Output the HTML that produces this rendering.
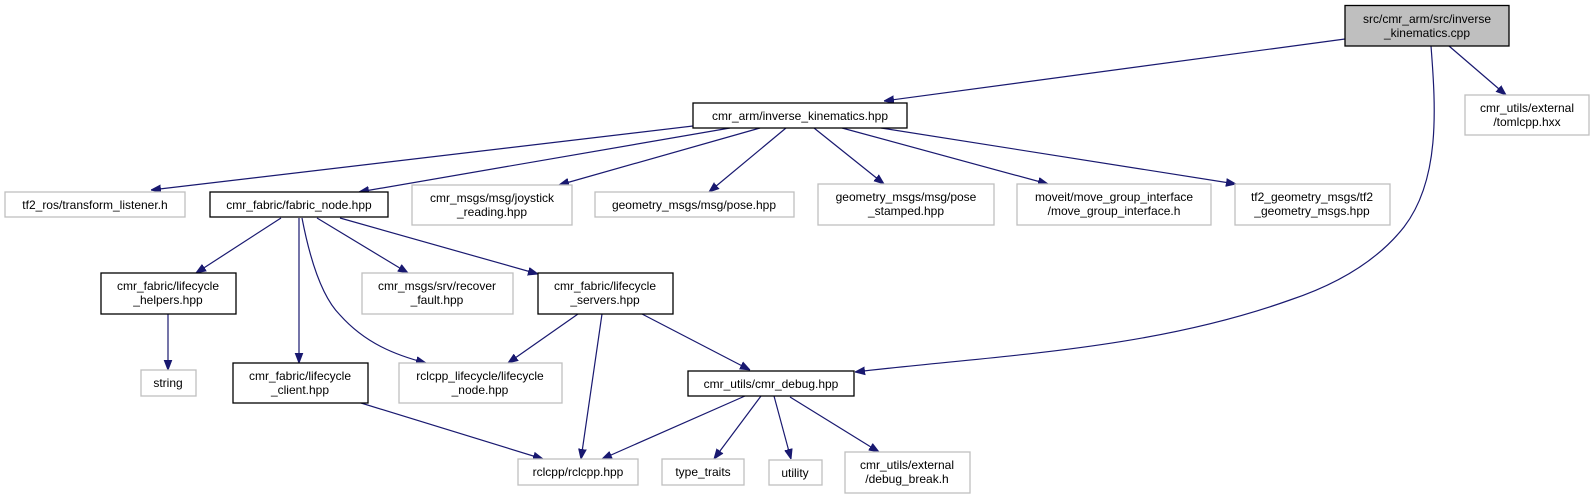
<!DOCTYPE html>
<html><head><meta charset="utf-8"><style>
html,body{margin:0;padding:0;background:#fff;}
svg{display:block;}
text{font-family:"Liberation Sans",Arial,sans-serif;font-size:12px;fill:#000;text-anchor:middle;}
.g{fill:#fff;stroke:#bfbfbf;stroke-width:1.3;}
.b{fill:#fff;stroke:#000;stroke-width:1.3;}
.e{fill:none;stroke:#191970;stroke-width:1.2;}
</style></head><body>
<svg width="1595" height="499" viewBox="0 0 1595 499" xmlns="http://www.w3.org/2000/svg">
<defs><marker id="a" viewBox="0 0 10 10" refX="10" refY="5" markerWidth="10" markerHeight="10" markerUnits="userSpaceOnUse" orient="auto"><path d="M0,1.2 L10,5 L0,8.8 z" fill="#191970" stroke="#191970"/></marker></defs>
<g marker-end="url(#a)">
<path class="e" d="M693,126 L151,190"/>
<path class="e" d="M730,128 L359,192"/>
<path class="e" d="M760,128 L559,185"/>
<path class="e" d="M786,128 L709,192"/>
<path class="e" d="M814,128 L884,184"/>
<path class="e" d="M842,128 L1048,184"/>
<path class="e" d="M881,128 L1236,184"/>
<path class="e" d="M1345,39 L884,101"/>
<path class="e" d="M1449,46 L1506,95"/>
<path class="e" d="M1431,46 C1436,110 1440,180 1404,227 C1370,270 1320,290 1290,300 C1150,350 1000,355 855,372"/>
<path class="e" d="M790,397 L879,452"/>
<path class="e" d="M281,218 L196,273"/>
<path class="e" d="M299,218 L299,363"/>
<path class="e" d="M302,218 C312,270 325,300 340,315 C365,343 395,355 426,363"/>
<path class="e" d="M317,218 L408,273"/>
<path class="e" d="M340,218 L538,274"/>
<path class="e" d="M168,314 L168,370"/>
<path class="e" d="M578,314 L508,363"/>
<path class="e" d="M602,314 L581,459"/>
<path class="e" d="M642,314 L750,370"/>
<path class="e" d="M361,403 L543,459"/>
<path class="e" d="M745,396 L602,459"/>
<path class="e" d="M761,396 L714,459"/>
<path class="e" d="M774,396 L791,459"/>
</g>
<rect x="1345" y="5.5" width="164" height="40.5" fill="#bfbfbf" stroke="#000" stroke-width="1.3"/>
<text x="1427" y="23">src/cmr_arm/src/inverse</text><text x="1427" y="37">_kinematics.cpp</text>
<rect class="g" x="1465" y="95" width="124" height="40"/>
<text x="1527" y="112">cmr_utils/external</text><text x="1527" y="126">/tomlcpp.hxx</text>
<rect class="b" x="693" y="103" width="214" height="25"/>
<text x="800" y="120">cmr_arm/inverse_kinematics.hpp</text>
<rect class="g" x="5" y="192" width="180" height="25"/>
<text x="95" y="209">tf2_ros/transform_listener.h</text>
<rect class="b" x="210" y="192" width="178" height="25"/>
<text x="299" y="209">cmr_fabric/fabric_node.hpp</text>
<rect class="g" x="412" y="185" width="160" height="40"/>
<text x="492" y="202">cmr_msgs/msg/joystick</text><text x="492" y="216">_reading.hpp</text>
<rect class="g" x="595" y="192" width="199" height="25"/>
<text x="694" y="209">geometry_msgs/msg/pose.hpp</text>
<rect class="g" x="818" y="184" width="176" height="41"/>
<text x="906" y="201">geometry_msgs/msg/pose</text><text x="906" y="215">_stamped.hpp</text>
<rect class="g" x="1017" y="184" width="194" height="41"/>
<text x="1114" y="201">moveit/move_group_interface</text><text x="1114" y="215">/move_group_interface.h</text>
<rect class="g" x="1235" y="184" width="155" height="41"/>
<text x="1312" y="201">tf2_geometry_msgs/tf2</text><text x="1312" y="215">_geometry_msgs.hpp</text>
<rect class="b" x="101" y="273" width="135" height="41"/>
<text x="168" y="290">cmr_fabric/lifecycle</text><text x="168" y="304">_helpers.hpp</text>
<rect class="g" x="362" y="273" width="151" height="41"/>
<text x="437" y="290">cmr_msgs/srv/recover</text><text x="437" y="304">_fault.hpp</text>
<rect class="b" x="538" y="273" width="135" height="41"/>
<text x="605" y="290">cmr_fabric/lifecycle</text><text x="605" y="304">_servers.hpp</text>
<rect class="g" x="141" y="370" width="55" height="26"/>
<text x="168" y="387">string</text>
<rect class="b" x="233" y="363" width="135" height="40"/>
<text x="300" y="380">cmr_fabric/lifecycle</text><text x="300" y="394">_client.hpp</text>
<rect class="g" x="399" y="363" width="163" height="40"/>
<text x="480" y="380">rclcpp_lifecycle/lifecycle</text><text x="480" y="394">_node.hpp</text>
<rect class="b" x="688" y="371" width="166" height="25"/>
<text x="771" y="388">cmr_utils/cmr_debug.hpp</text>
<rect class="g" x="518" y="459" width="120" height="26"/>
<text x="578" y="476">rclcpp/rclcpp.hpp</text>
<rect class="g" x="662" y="459" width="82" height="26"/>
<text x="703" y="476">type_traits</text>
<rect class="g" x="769" y="460" width="53" height="25"/>
<text x="795" y="477">utility</text>
<rect class="g" x="845" y="452" width="125" height="41"/>
<text x="907" y="469">cmr_utils/external</text><text x="907" y="483">/debug_break.h</text>
</svg>
</body></html>
